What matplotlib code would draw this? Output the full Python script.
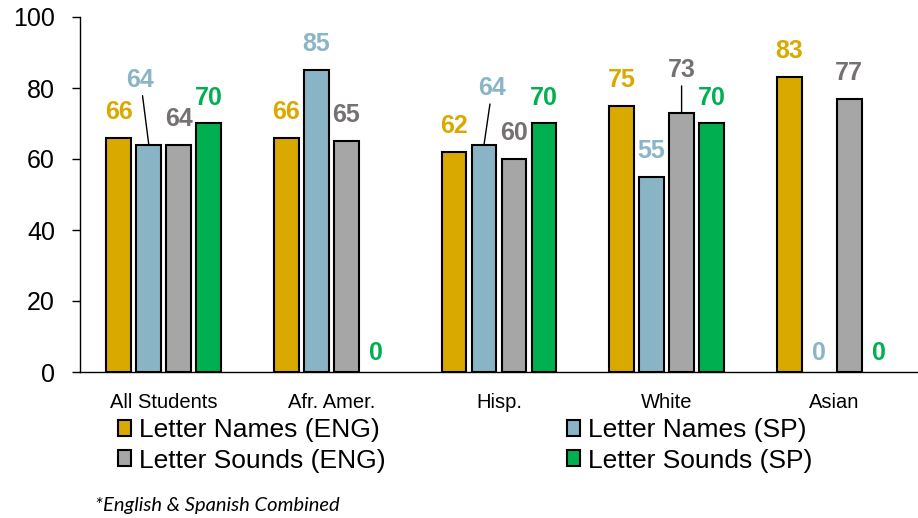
import numpy as np
import matplotlib.pyplot as plt
from matplotlib.patches import Patch

plt.rcParams['font.family'] = ['Liberation Sans', 'DejaVu Sans']

groups = ['All Students', 'Afr. Amer.', 'Hisp.', 'White', 'Asian']
series = ['Letter Names (ENG)', 'Letter Names (SP)', 'Letter Sounds (ENG)', 'Letter Sounds (SP)']
names_eng = [66, 66, 62, 75, 83]
names_sp = [64, 85, 64, 55, 0]
sounds_eng = [64, 65, 60, 73, 77]
sounds_sp = [70, 0, 70, 70, 0]
values = [names_eng, names_sp, sounds_eng, sounds_sp]

bar_colors = ['#DAA900', '#89B4C6', '#A6A6A6', '#00B050']
label_colors = ['#DAA900', '#8AB5C7', '#767171', '#00B050']

# label offsets in points (series, group) -> (dx, dy); default sits above bar
special = {(1, 0): (-6, 47), (1, 2): (6, 41), (2, 3): (0, 31)}
leader = {(1, 0), (1, 2), (2, 3)}

fig = plt.figure(figsize=(9.18, 5.18), dpi=100)
ax = fig.add_axes([80 / 918, 146 / 518, 838 / 918, 355 / 518])

x = np.arange(len(groups))
step = 0.179
width = 0.149
for s in range(4):
    xs = x + (s - 1.5) * step
    vals = np.array(values[s])
    lws = [1.5 if v > 0 else 0 for v in vals]
    ax.bar(xs, vals, width, color=bar_colors[s], edgecolor='black',
           linewidth=lws, zorder=3)
    for g, v in enumerate(vals):
        if v == 0:
            dx, dy = 0, 13.5
        else:
            dx, dy = special.get((s, g), (0, 18.7))
        arrow = None
        if (s, g) in leader:
            arrow = dict(arrowstyle='-', color='black', lw=1, shrinkA=1, shrinkB=0)
        ax.annotate(str(v), xy=(xs[g], v), xytext=(dx, dy), textcoords='offset points',
                    ha='center', va='center', fontsize=18, fontweight='bold',
                    color=label_colors[s], arrowprops=arrow, zorder=4)

ax.set_xlim(-0.5, 4.5)
ax.set_ylim(0, 100)
ax.set_yticks([0, 20, 40, 60, 80, 100])
ax.tick_params(axis='y', labelsize=18, length=6, width=1, pad=12)
ax.tick_params(axis='x', labelsize=14.5, length=0, pad=15)
ax.set_xticks(x)
ax.set_xticklabels(groups)
for sp in ['top', 'right']:
    ax.spines[sp].set_visible(False)
ax.spines['left'].set_linewidth(1)
ax.spines['bottom'].set_linewidth(1)

handles = [Patch(facecolor=c, edgecolor='black', linewidth=1.5) for c in bar_colors]
leg_kw = dict(frameon=False, fontsize=19, handlelength=0.5, handleheight=0.55,
              handletextpad=0.3, labelspacing=0.25, borderaxespad=0, borderpad=0,
              loc='upper left')
fig.legend([handles[0], handles[2]], [series[0], series[2]],
           bbox_to_anchor=(118 / 918, 1 - 418 / 518), **leg_kw)
fig.legend([handles[1], handles[3]], [series[1], series[3]],
           bbox_to_anchor=(567 / 918, 1 - 418 / 518), **leg_kw)

fig.text(95 / 918, 1 - 506 / 518, '*English & Spanish Combined', fontsize=14.5,
         fontstyle='italic', family=['Lato', 'DejaVu Sans'], va='center', ha='left')

fig.savefig('out.png', dpi=100)
